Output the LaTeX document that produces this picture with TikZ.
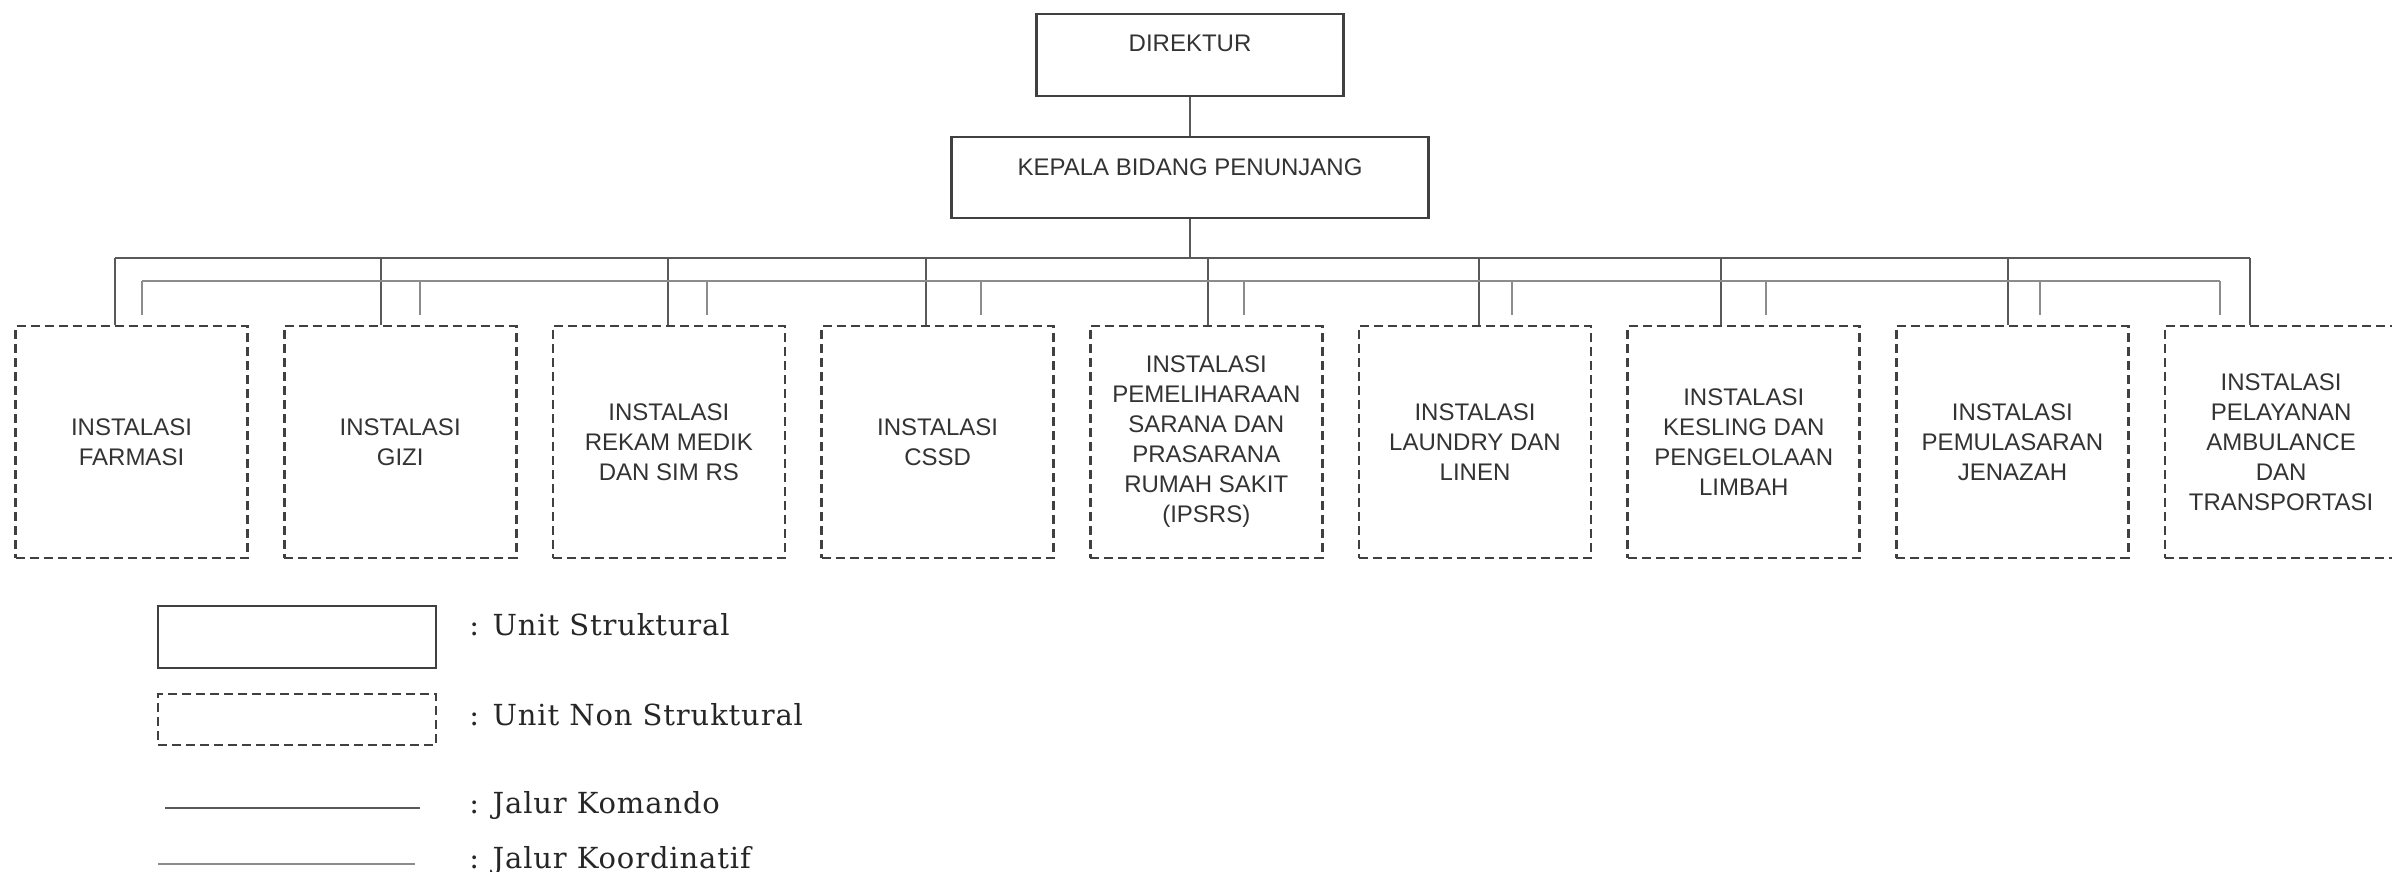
\documentclass[tikz,border=0pt]{standalone}
\usepackage{fontspec}
\setmainfont{Liberation Sans}
\newfontfamily\legendfont[LetterSpace=3]{DejaVu Serif}

\begin{document}
\begin{tikzpicture}[x=0.5pt,y=-0.5pt,node distance=134.35pt,font=\fontsize{12}{15}\selectfont]
  \tikzstyle{struk}=[draw=black!75,line width=1.2pt,inner sep=0pt,text=black!80]
  \tikzstyle{nonstruk}=[draw=black!75,line width=1.3pt,dash pattern=on 4.5pt off 2.5pt,
                        minimum width=116pt,minimum height=116pt,inner sep=0pt,align=center,text=black!80]
  \tikzstyle{komando}=[draw=black!65,line width=0.7pt]
  \tikzstyle{koord}=[draw=black!45,line width=0.7pt]
  \tikzstyle{ket}=[font=\legendfont\fontsize{14.5}{16}\selectfont,anchor=base west,inner sep=0pt,text=black!85]
  \useasboundingbox (0,0) rectangle (2392,872);

  \node[struk,minimum width=153.5pt,text height=18.75pt,text depth=22.25pt] (direktur) at (1190,55) {DIREKTUR};
  \node[struk,minimum width=238.5pt,text height=19.25pt,text depth=21.25pt] (kabid)    at (1190,177.5) {KEPALA BIDANG PENUNJANG};

  \node[nonstruk] (farmasi)  at (131.5,442)        {INSTALASI\\FARMASI};
  \node[nonstruk] (gizi)     [right of=farmasi]    {INSTALASI\\GIZI};
  \node[nonstruk] (rekam)    [right of=gizi]       {INSTALASI\\REKAM MEDIK\\DAN SIM RS};
  \node[nonstruk] (cssd)     [right of=rekam]      {INSTALASI\\CSSD};
  \node[nonstruk] (ipsrs)    [right of=cssd]       {INSTALASI\\PEMELIHARAAN\\SARANA DAN\\PRASARANA\\RUMAH SAKIT\\(IPSRS)};
  \node[nonstruk] (laundry)  [right of=ipsrs]      {INSTALASI\\LAUNDRY DAN\\LINEN};
  \node[nonstruk] (kesling)  [right of=laundry]    {INSTALASI\\KESLING DAN\\PENGELOLAAN\\LIMBAH};
  \node[nonstruk] (jenazah)  [right of=kesling]    {INSTALASI\\PEMULASARAN\\JENAZAH};
  \node[nonstruk] (ambulans) [right of=jenazah]    {INSTALASI\\PELAYANAN\\AMBULANCE\\DAN\\TRANSPORTASI};

  \foreach \unit/\kx/\cx [count=\i] in {farmasi/115/142,gizi/381/420,rekam/668/707,cssd/926/981,
      ipsrs/1208/1244,laundry/1479/1512,kesling/1721/1766,jenazah/2008/2040,ambulans/2250/2220}{
    \coordinate (kom\i) at (\kx,258);
    \coordinate (kor\i) at (\cx,281);
    \draw[komando] (kom\i) -- (kom\i |- \unit.north);
    \draw[koord,shorten >=5pt] (kor\i) -- (kor\i |- \unit.north);
  }
  \path (direktur) edge[komando] (kabid);
  \draw[komando] (kabid) -- (kabid |- kom1);
  \draw[komando] (kom1) -- (kom9);
  \draw[koord] (kor1) -- (kor9);

  \node[struk,minimum width=139pt,minimum height=31pt]      (legstruk) at (297,637)   {};
  \node[nonstruk,minimum width=139pt,minimum height=25.5pt] (legnon)   at (297,719.5) {};
  \coordinate (legkom1) at (165,808);
  \coordinate (legkom2) at (420,808);
  \coordinate (legkor1) at (158,864);
  \coordinate (legkor2) at (415,864);
  \draw[komando] (legkom1) -- (legkom2);
  \draw[koord] (legkor1) -- (legkor2);
  \node[ket] (ketstruk) at (469,635) {: Unit Struktural};
  \node[ket] (ketnon)   at (469,725) {: Unit Non Struktural};
  \node[ket] (ketkom)   at (469,813) {: Jalur Komando};
  \node[ket] (ketkor)   at (469,868) {: Jalur Koordinatif};
\end{tikzpicture}
\end{document}
